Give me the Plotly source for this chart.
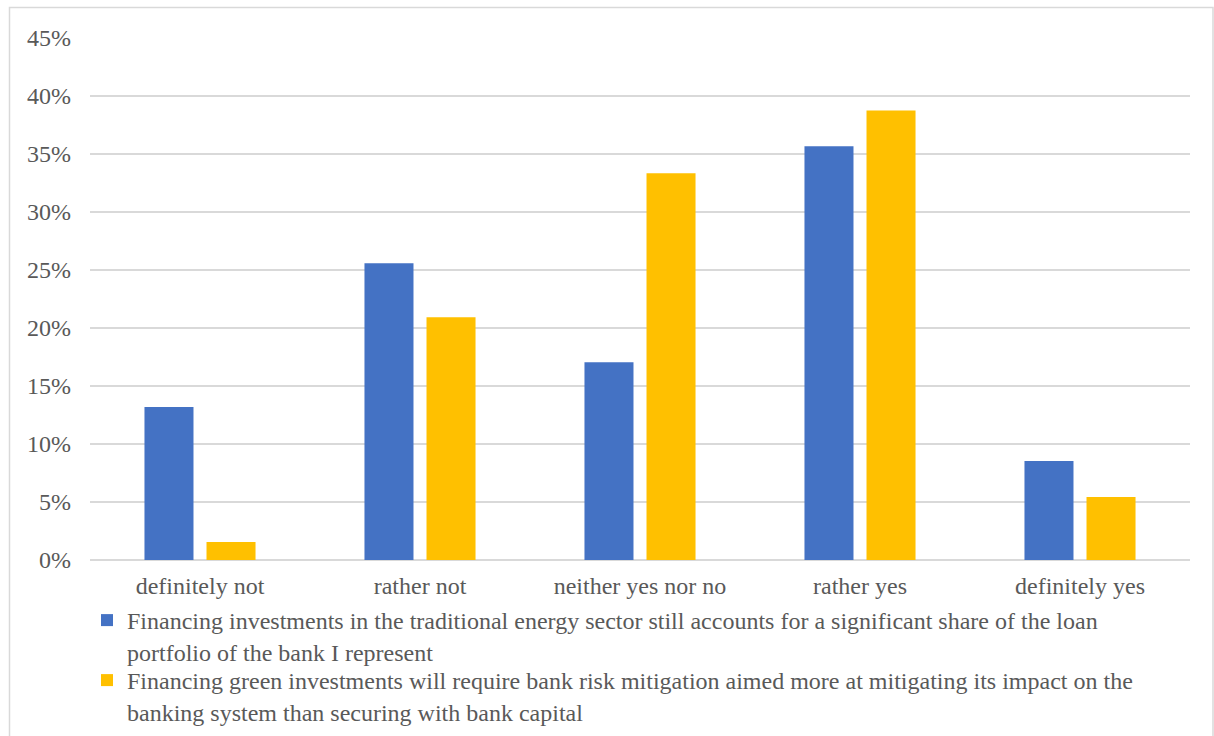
import plotly.graph_objects as go

# Survey answer categories and response shares (fractions)
categories = ["definitely not", "rather not", "neither yes nor no", "rather yes", "definitely yes"]
traditional_share = [0.1318, 0.2558, 0.1705, 0.3566, 0.0853]
green_share = [0.0155, 0.2093, 0.3333, 0.3876, 0.0543]

series_names = [
    "Financing investments in the traditional energy sector still accounts for a significant share of the loan<br>portfolio of the bank I represent",
    "Financing green investments will require bank risk mitigation aimed more at mitigating its impact on the<br>banking system than securing with bank capital",
]
series_colors = ["#4472C4", "#FFC000"]

W, H = 1214, 736
ML, MR, MT, MB = 90, 24, 38, 176
PW, PH = W - ML - MR, H - MT - MB

text_color = "#595959"
font = "Liberation Serif, Times New Roman, serif"

fig = go.Figure()
legend_ids = ["legend", "legend2"]
for name, vals, col, lg in zip(series_names, [traditional_share, green_share],
                               series_colors, legend_ids):
    fig.add_trace(go.Bar(x=categories, y=vals, name=name, marker_color=col,
                         marker_line_width=0, legend=lg))

def px_x(px):
    return (px - ML) / PW

def px_y(py):
    return (H - MB - py) / PH

def legend_box(top_px):
    return dict(
        orientation="v",
        xref="container", yref="container",
        x=87 / W, xanchor="left",
        y=1 - top_px / H, yanchor="top",
        valign="top",
        font=dict(family=font, size=24, color=text_color),
        bgcolor="rgba(0,0,0,0)",
    )

fig.update_layout(
    width=W, height=H,
    margin=dict(l=ML, r=MR, t=MT, b=MB, autoexpand=False),
    paper_bgcolor="white", plot_bgcolor="white",
    barmode="group", bargap=0.436, bargroupgap=0.21,
    font=dict(family=font, size=24, color=text_color),
    showlegend=True,
    legend=legend_box(598),
    legend2=legend_box(658),
    xaxis=dict(
        showgrid=False, showline=False, ticks="",
        tickfont=dict(family=font, size=24, color=text_color),
        ticklabelstandoff=9,
    ),
    yaxis=dict(
        range=[0, 0.45], dtick=0.05, tickformat=".0%",
        showgrid=True, gridcolor="#d9d9d9", gridwidth=1.5,
        zeroline=True, zerolinecolor="#d9d9d9", zerolinewidth=1.5,
        showline=False, ticks="",
        tickfont=dict(family=font, size=24, color=text_color),
        ticklabelstandoff=18,
    ),
    shapes=[dict(
        type="rect", xref="paper", yref="paper",
        x0=px_x(9.5), x1=px_x(1213), y0=px_y(760), y1=px_y(7.5),
        line=dict(color="#d9d9d9", width=1.5), fillcolor="rgba(0,0,0,0)",
        layer="below",
    )],
)

fig.write_html("out.html")
